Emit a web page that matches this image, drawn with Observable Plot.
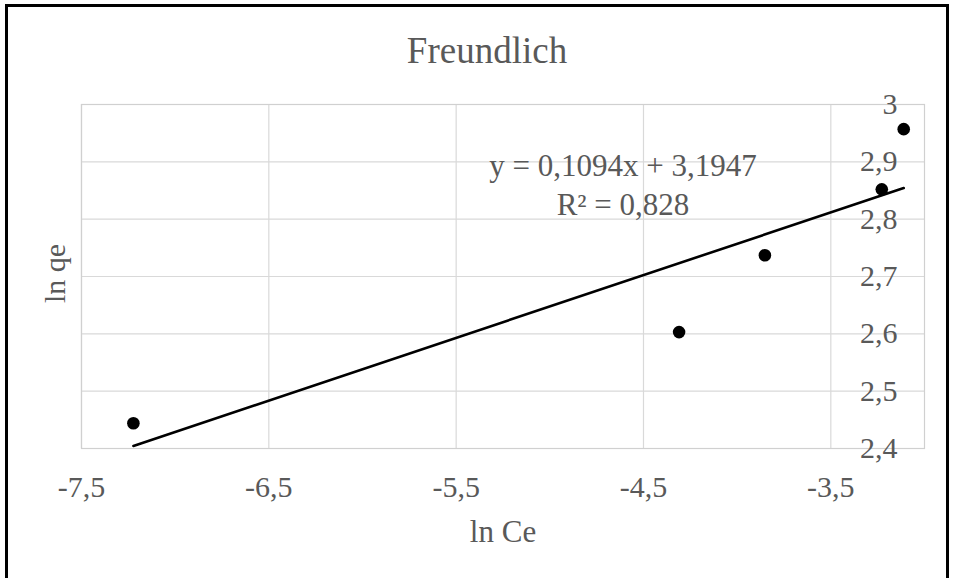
<!DOCTYPE html>
<html>
<head>
<meta charset="utf-8">
<script src="https://cdn.jsdelivr.net/npm/d3@7"></script>
<script src="https://cdn.jsdelivr.net/npm/@observablehq/plot@0.6"></script>
<style>
  html, body { margin: 0; padding: 0; background: #ffffff; }
  #chart { position: relative; width: 957px; height: 578px; overflow: hidden; }
  #chart .border {
    position: absolute; left: 5px; top: 4px; width: 938px; height: 640px;
    border: 3px solid #000000; pointer-events: none;
  }
  #chart svg { position: absolute; left: 0; top: 0; }
</style>
</head>
<body>
<div id="chart"><div class="border"></div></div>
<script>
// Freundlich isotherm: ln qe against ln Ce
const lnCe = [-7.223, -4.31, -3.852, -3.228, -3.111];
const lnQe = [2.444, 2.603, 2.737, 2.852, 2.957];

// Linear trendline reported on the chart
const slope = 0.1094;
const intercept = 3.1947;
const rSquared = 0.828;

// Axis ticks
const xTicks = [-7.5, -6.5, -5.5, -4.5, -3.5];
const yTicks = [2.4, 2.5, 2.6, 2.7, 2.8, 2.9, 3];
const xDomain = [-7.5, -3];
const yDomain = [2.4, 3];

const title = "Freundlich";
const xLabel = "ln Ce";
const yLabel = "ln qe";

const comma = (v) => String(v).replace(".", ",");

const points = lnCe.map((x, i) => ({x, y: lnQe[i]}));
const xMin = d3.min(lnCe), xMax = d3.max(lnCe);
const trend = [xMin, xMax].map((x) => ({x, y: slope * x + intercept}));

const eqLine1 = `y = ${comma(slope)}x + ${comma(intercept)}`;
const eqLine2 = `R² = ${comma(rSquared)}`;

const grey = "#595959";

const chart = Plot.plot({
  width: 957,
  height: 578,
  marginLeft: 81,
  marginRight: 33,
  marginTop: 104,
  marginBottom: 130,
  style: {
    fontFamily: "'Liberation Serif', 'Times New Roman', serif",
    fontSize: "30px",
    color: grey,
    background: "transparent"
  },
  x: {domain: xDomain, label: null},
  y: {domain: yDomain, label: null},
  marks: [
    Plot.gridX(xTicks, {stroke: "#d9d9d9", strokeOpacity: 1, strokeWidth: 1.2}),
    Plot.gridY(yTicks, {stroke: "#d9d9d9", strokeOpacity: 1, strokeWidth: 1.2}),
    Plot.frame({stroke: "#d0d0d0", strokeWidth: 1.2}),
    Plot.axisX(xTicks, {
      tickSize: 0, tickPadding: 27, tickFormat: comma, label: null, fill: grey
    }),
    Plot.axisY(yTicks, {
      anchor: "right", tickSize: 0, tickPadding: 0, dx: -27,
      textAnchor: "end", tickFormat: comma, label: null, fill: grey
    }),
    Plot.line(trend, {x: "x", y: "y", stroke: "#000000", strokeWidth: 2.6}),
    Plot.dot(points, {x: "x", y: "y", r: 6.3, fill: "#000000", stroke: "none"}),
    // chart title
    Plot.text([title], {
      frameAnchor: "top", lineAnchor: "bottom", dx: -16, dy: -42,
      fontSize: 37, fill: grey
    }),
    // trendline equation
    Plot.text([eqLine1], {
      frameAnchor: "top", lineAnchor: "bottom", dx: 120, dy: 71,
      fontSize: 31, fill: grey
    }),
    Plot.text([eqLine2], {
      frameAnchor: "top", lineAnchor: "bottom", dx: 120, dy: 110,
      fontSize: 31, fill: grey
    }),
    // axis titles
    Plot.text([xLabel], {
      frameAnchor: "bottom", lineAnchor: "bottom", dy: 93,
      fontSize: 31, fill: grey
    }),
    Plot.text([yLabel], {
      frameAnchor: "left", textAnchor: "middle", lineAnchor: "bottom", rotate: -90,
      dx: -17, dy: -3, fontSize: 30, fill: grey
    })
  ]
});

document.getElementById("chart").appendChild(chart);
</script>
</body>
</html>
